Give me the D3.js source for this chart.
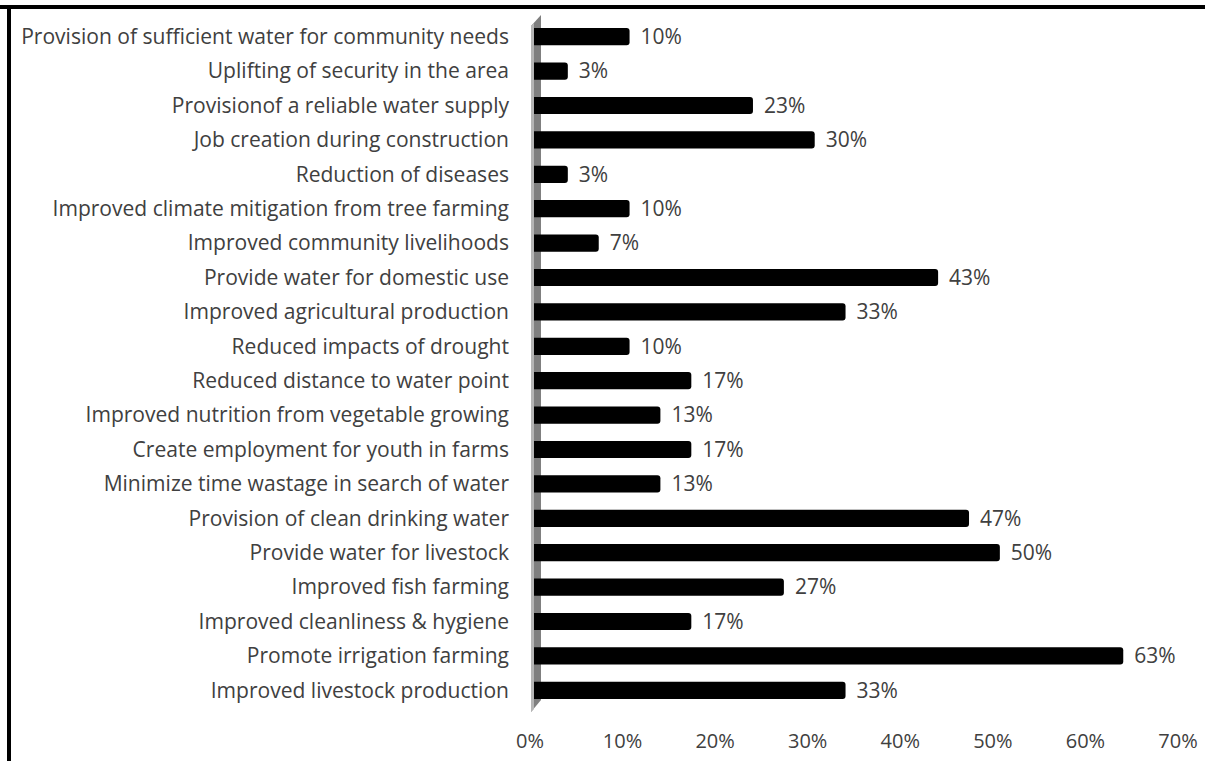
<!DOCTYPE html>
<html lang="en">
<head>
<meta charset="UTF-8">
<title>Benefits bar chart</title>
<script src="https://cdn.jsdelivr.net/npm/d3@7"></script>
<style>
  body { margin: 0; background: #fff; }
  svg { display: block; }
  .cat, .val, .tick-lab { font-family: "Open Sans", Lato, sans-serif; fill: #404040; }
</style>
</head>
<body>
<svg id="chart" width="1205" height="761"></svg>
<script>
// categories, top to bottom
const categories = [
  "Provision of sufficient water for community needs",
  "Uplifting of security in the area",
  "Provisionof a reliable water supply",
  "Job creation during construction",
  "Reduction of diseases",
  "Improved climate mitigation from tree farming",
  "Improved community livelihoods",
  "Provide water for domestic use",
  "Improved agricultural production",
  "Reduced impacts of drought",
  "Reduced distance to water point",
  "Improved nutrition from vegetable growing",
  "Create employment for youth in farms",
  "Minimize time wastage in search of water",
  "Provision of clean drinking water",
  "Provide water for livestock",
  "Improved fish farming",
  "Improved cleanliness & hygiene",
  "Promote irrigation farming",
  "Improved livestock production"
];
// share of respondents (%)
const values = [10, 3.33, 23.33, 30, 3.33, 10, 6.67, 43.33, 33.33, 10,
                16.67, 13.33, 16.67, 13.33, 46.67, 50, 26.67, 16.67, 63.33, 33.33];
const valueLabels = ["10%", "3%", "23%", "30%", "3%", "10%", "7%", "43%", "33%", "10%",
                     "17%", "13%", "17%", "13%", "47%", "50%", "27%", "17%", "63%", "33%"];
const ticks = [0, 10, 20, 30, 40, 50, 60, 70];

const svg = d3.select("#chart");

// frame lines (top and left only)
svg.append("rect").attr("x", 0).attr("y", 5).attr("width", 1205).attr("height", 4).attr("fill", "#000");
svg.append("rect").attr("x", 7).attr("y", 5).attr("width", 4).attr("height", 756).attr("fill", "#000");

const x = d3.scaleLinear().domain([0, 70]).range([537, 1185]);
const y = d3.scaleBand().domain(categories).range([19.5, 707.5]).paddingInner(0.5).paddingOuter(0.25);

// 3D-ish axis wall
svg.append("polygon")
  .attr("points", "531,26 541,15 541,700 531,712")
  .attr("fill", "#7f7f7f");
svg.append("polygon")
  .attr("points", "531,26 534,23 534,709 531,712")
  .attr("fill", "#b5b5b5");

// bars
svg.selectAll(".bar").data(categories).join("path")
  .attr("class", "bar")
  .attr("fill", "#000")
  .attr("d", (c, i) => {
    const x0 = 534, x1 = x(values[i]), y0 = y(c), h = y.bandwidth(), r = 3;
    return `M${x0},${y0}H${x1 - r}Q${x1},${y0} ${x1},${y0 + r}V${y0 + h - r}Q${x1},${y0 + h} ${x1 - r},${y0 + h}H${x0}Z`;
  });

// category labels
const cats = svg.selectAll(".cat").data(categories).join("text")
  .attr("class", "cat")
  .attr("x", 509)
  .attr("y", c => y(c) + y.bandwidth() / 2)
  .attr("dy", "0.35em")
  .attr("text-anchor", "end")
  .attr("font-size", 17)
  .text(c => c);
// fit longest label to the reference span (~488px)
const w0 = cats.node().getComputedTextLength();
cats.attr("font-size", 17 * 488 / w0);

// value labels
svg.selectAll(".val").data(categories).join("text")
  .attr("class", "val")
  .attr("x", (c, i) => x(values[i]) + 11)
  .attr("y", c => y(c) + y.bandwidth() / 2)
  .attr("dy", "0.35em")
  .attr("font-size", 21)
  .text((c, i) => valueLabels[i]);

// x tick labels
svg.selectAll(".tick-lab").data(ticks).join("text")
  .attr("class", "tick-lab")
  .attr("x", t => x(t) - 7)
  .attr("y", 741)
  .attr("dy", "0.35em")
  .attr("text-anchor", "middle")
  .attr("font-size", 20)
  .text(t => t + "%");
</script>
</body>
</html>
